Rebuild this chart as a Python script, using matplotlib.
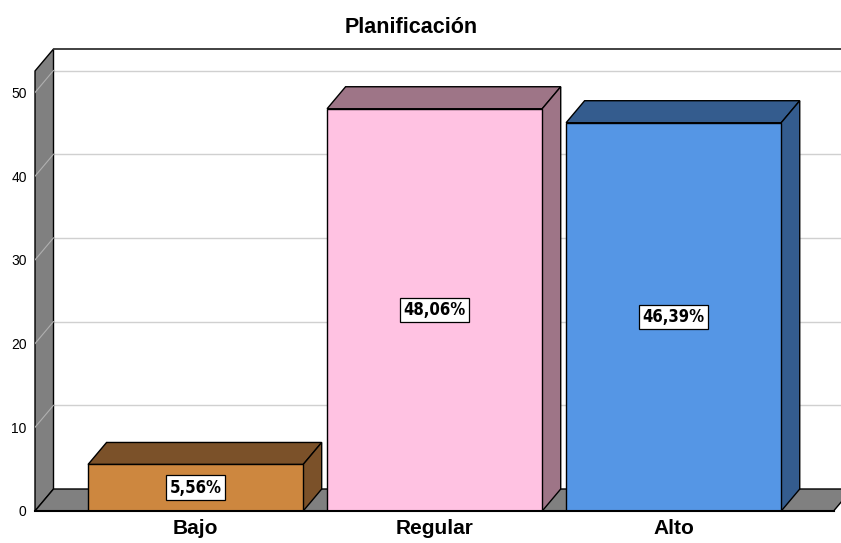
import matplotlib.pyplot as plt
from matplotlib.patches import Polygon, Rectangle

categorias = ["Bajo", "Regular", "Alto"]
porcentajes = [5.56, 48.06, 46.39]
etiquetas = ["5,56%", "48,06%", "46,39%"]
y_ticks = [0, 10, 20, 30, 40, 50]

frente = ["#CD873F", "#FFC2E2", "#5596E5"]
oscuro = ["#7B5129", "#9E7587", "#345C8E"]

W, H = 841, 543
fig = plt.figure(figsize=(W / 100, H / 100), dpi=100)
ax = fig.add_axes([35 / W, (H - 511) / H, (W - 35) / W, (511 - 49) / H])

escala = 8.37  # px por unidad
x_min, x_max = -0.672, 2.70
y_max = (511 - 49) / escala
ancho = 0.9
dx, dy = 18.5 / 239, 22 / escala
ax.set_xlim(x_min, x_max)
ax.set_ylim(0, y_max)
for s in ax.spines.values():
    s.set_visible(False)

gris = "#808080"
tope = y_max - dy
# pared izquierda
ax.add_patch(Polygon([(x_min, 0), (x_min, tope), (x_min + dx, y_max), (x_min + dx, dy)],
                     closed=True, fc=gris, ec="black", lw=1, zorder=1, clip_on=False))
# suelo
ax.add_patch(Polygon([(x_min, 0), (x_max - dx * 0.4, 0), (x_max + dx * 0.6, dy), (x_min + dx, dy)],
                     closed=True, fc=gris, ec="black", lw=1, zorder=1, clip_on=False))
ax.plot([x_min + dx, x_max], [y_max, y_max], color="#333333", lw=1.3, zorder=2, clip_on=False)

# lineas de cuadricula
for t in y_ticks[1:]:
    ax.plot([x_min + dx, x_max], [t + dy, t + dy], color="#d0d0d0", lw=1, zorder=0.5)
    ax.plot([x_min, x_min + dx], [t, t + dy], color="#b0b0b0", lw=0.8, zorder=1.5)

# barras 3D
for i, v in enumerate(porcentajes):
    x0, x1 = i - ancho / 2, i + ancho / 2
    ax.add_patch(Polygon([(x0, v), (x0 + dx, v + dy), (x1 + dx, v + dy), (x1, v)],
                         closed=True, fc=oscuro[i], ec="black", lw=1, zorder=3))
    ax.add_patch(Polygon([(x1, 0), (x1 + dx, dy), (x1 + dx, v + dy), (x1, v)],
                         closed=True, fc=oscuro[i], ec="black", lw=1, zorder=3))
    ax.add_patch(Rectangle((x0, 0), ancho, v, fc=frente[i], ec="black", lw=1, zorder=4))
    ax.text(i, v / 2, etiquetas[i], ha="center", va="center", fontsize=12, fontweight="bold",
            fontstretch="condensed", family="DejaVu Sans", zorder=5,
            bbox=dict(boxstyle="square,pad=0.2", fc="white", ec="black", lw=0.9))

ax.plot([x_min, x_max - dx * 0.4], [0, 0], color="black", lw=1.5, zorder=4, clip_on=False)

ax.set_yticks(y_ticks)
ax.set_yticklabels([str(t) for t in y_ticks], fontsize=10, family="Liberation Sans")
ax.tick_params(axis="y", length=0, pad=6)
ax.set_xticks(range(len(categorias)))
ax.set_xticklabels(categorias, fontsize=15, fontweight="bold", family="Liberation Sans")
ax.tick_params(axis="x", length=0, pad=5.5)

fig.text(411 / W, 1 - 33 / H, "Planificación", ha="center", va="baseline",
         fontsize=15.5, fontweight="bold", family="Liberation Sans")

fig.savefig("out.png", dpi=100)
